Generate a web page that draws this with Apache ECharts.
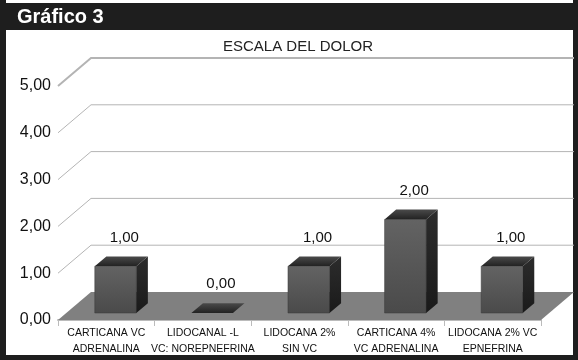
<!DOCTYPE html>
<html>
<head>
<meta charset="utf-8">
<script src="https://cdn.jsdelivr.net/npm/echarts@6/dist/echarts.min.js"></script>
<style>
  html, body { margin: 0; padding: 0; background: #fff; }
  #chart { width: 578px; height: 360px; }
</style>
</head>
<body>
<div id="chart"></div>
<script>
var categories = [
  'CARTICANA VC\nADRENALINA',
  'LIDOCANAL -L\nVC: NOREPNEFRINA',
  'LIDOCANA 2%\nSIN VC',
  'CARTICANA 4%\nVC ADRENALINA',
  'LIDOCANA 2% VC\nEPNEFRINA'
];
var values = [1, 0, 1, 2, 1];
var yTicks = [0, 1, 2, 3, 4, 5];

// depth of the 3d box (front plane -> back wall), in px
var DX = 33, DY = -28;
var FRONT = 0.25, BACK = 0.6;

function fmt(v) {
  return v.toFixed(2).replace('.', ',');
}

var barData = values.map(function(v, i) { return [i, v]; });
var wallData = yTicks.map(function(t) { return [0, t]; });

var myChart = echarts.init(document.getElementById('chart'));

var option = {
  animation: false,
  textStyle: { fontFamily: 'Liberation Sans, Arial, sans-serif' },
  title: {
    text: 'ESCALA DEL DOLOR',
    left: 293,
    textAlign: 'center',
    top: 34,
    textStyle: { fontSize: 15, fontWeight: 'normal', color: '#222' }
  },
  graphic: [
    { type: 'rect', shape: { x: 0, y: 3, width: 578, height: 27 }, style: { fill: '#1e1e1e' } },
    { type: 'rect', shape: { x: 0, y: 0, width: 6, height: 360 }, style: { fill: '#1e1e1e' } },
    { type: 'rect', shape: { x: 573, y: 0, width: 5, height: 360 }, style: { fill: '#1e1e1e' } },
    { type: 'rect', shape: { x: 0, y: 355, width: 578, height: 5 }, style: { fill: '#1e1e1e' } },
    {
      type: 'text', left: 17, top: 7,
      style: { text: 'Gráfico 3', fill: '#fff', font: 'bold 20px Liberation Sans, Arial, sans-serif' }
    }
  ],
  grid: { left: 58, right: 37, top: 86, bottom: 40 },
  xAxis: {
    type: 'category',
    data: categories,
    axisLine: { show: true, lineStyle: { color: '#bbb', width: 2 } },
    axisTick: { show: true, length: 6, lineStyle: { color: '#bbb' } },
    axisLabel: { fontSize: 10.5, color: '#111', lineHeight: 16, margin: 5, interval: 0 },
    splitLine: { show: false }
  },
  yAxis: {
    type: 'value',
    min: 0,
    max: 5,
    interval: 1,
    axisLine: { show: false },
    axisTick: { show: false },
    splitLine: { show: false },
    axisLabel: { fontSize: 16, color: '#111', margin: 7, formatter: fmt }
  },
  series: [
    {
      // floor + walls
      type: 'custom',
      z: 1,
      silent: true,
      data: wallData,
      encode: { x: 0, y: 1 },
      renderItem: function(params, api) {
        var t = api.value(1);
        var a = api.coord([0, t]);
        var w = api.size([1, 0])[0];
        var x0 = a[0] - w / 2;
        var x1 = x0 + w * categories.length;
        var y = a[1];
        var children = [];
        if (t === 0) {
          children.push({
            type: 'polygon',
            shape: { points: [[x0, y], [x1, y], [x1 + DX, y + DY], [x0 + DX, y + DY]] },
            style: { fill: '#808080' }
          });
        } else {
          children.push({
            type: 'polyline',
            shape: { points: [[x0, y], [x0 + DX, y + DY], [x1 + DX, y + DY]] },
            style: { stroke: '#b4b4b4', lineWidth: t === 5 ? 2 : 1, fill: null }
          });
        }
        return { type: 'group', children: children };
      }
    },
    {
      type: 'custom',
      z: 3,
      data: barData,
      encode: { x: 0, y: 1 },
      renderItem: function(params, api) {
        var idx = api.value(0);
        var v = api.value(1);
        var p0 = api.coord([idx, 0]);
        var p1 = api.coord([idx, v]);
        var bw = api.size([1, 0])[0] * 0.43;
        var xl = p0[0] - bw / 2 + FRONT * DX + 1;
        var xr = xl + bw;
        var yb = p0[1] + FRONT * DY;
        var yt = p1[1] + FRONT * DY;
        var dx = (BACK - FRONT) * DX, dy = (BACK - FRONT) * DY;
        var children = [];
        if (yb - yt > 0) {
          children.push({
            type: 'rect',
            shape: { x: xl, y: yt, width: bw, height: yb - yt },
            style: {
              fill: new echarts.graphic.LinearGradient(0, 0, 0, 1, [
                { offset: 0, color: '#636363' },
                { offset: 1, color: '#4a4a4a' }
              ]),
              stroke: '#3a3a3a', lineWidth: 0.5
            }
          });
          children.push({
            type: 'polygon',
            shape: { points: [[xr, yt], [xr + dx, yt + dy], [xr + dx, yb + dy], [xr, yb]] },
            style: {
              fill: new echarts.graphic.LinearGradient(0, 0, 0, 1, [
                { offset: 0, color: '#2c2c2c' },
                { offset: 1, color: '#1a1a1a' }
              ])
            }
          });
        }
        children.push({
          type: 'polygon',
          shape: { points: [[xl, yt], [xr, yt], [xr + dx, yt + dy], [xl + dx, yt + dy]] },
          style: {
            fill: new echarts.graphic.LinearGradient(0, 1, 0, 0, [
              { offset: 0, color: '#222' },
              { offset: 1, color: '#4a4a4a' }
            ])
          }
        });
        children.push({
          type: 'text',
          style: {
            x: (xl + xr) / 2 + dx / 2 + 3,
            y: yt + dy - 19,
            text: fmt(v),
            align: 'center',
            verticalAlign: 'middle',
            fill: '#111',
            font: '15px Liberation Sans, Arial, sans-serif'
          }
        });
        return { type: 'group', children: children };
      }
    }
  ]
};

myChart.setOption(option);
</script>
</body>
</html>
